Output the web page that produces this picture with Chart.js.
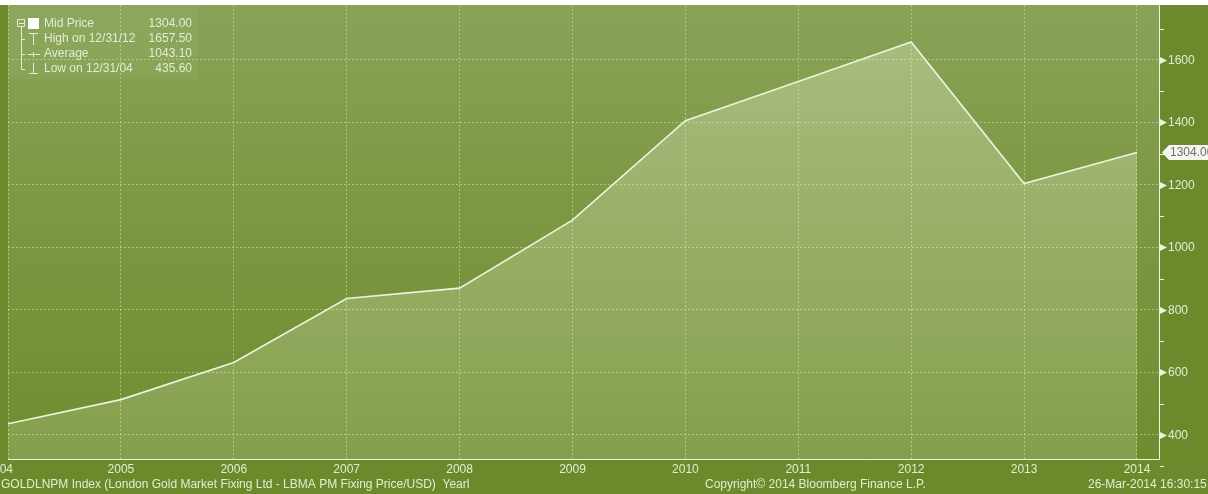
<!DOCTYPE html>
<html>
<head>
<meta charset="utf-8">
<script src="https://cdn.jsdelivr.net/npm/chart.js@4.4.1/dist/chart.umd.min.js"></script>
<style>
html,body{margin:0;padding:0;background:#fff;}
canvas{display:block;}
</style>
</head>
<body>
<canvas id="c" width="1208" height="494"></canvas>
<script>
const years = [2004, 2005, 2006, 2007, 2008, 2009, 2010, 2011, 2012, 2013, 2014];
const prices = [435.6, 513.0, 632.0, 836.5, 869.75, 1087.5, 1405.5, 1531.0, 1657.5, 1204.5, 1304.0];
const yTickValues = [400, 600, 800, 1000, 1200, 1400, 1600];
const yMinorValues = [300, 500, 700, 900, 1100, 1300, 1500, 1700];
const xTickLabels = ['2004', '2005', '2006', '2007', '2008', '2009', '2010', '2011', '2012', '2013', '2014'];
const legendLabels = ['Mid Price', 'High on 12/31/12', 'Average', 'Low on 12/31/04'];
const legendValues = ['1304.00', '1657.50', '1043.10', '435.60'];
const lastLabel = '1304.00';
const footerLeft = 'GOLDLNPM Index (London Gold Market Fixing Ltd - LBMA PM Fixing Price/USD)  Yearl';
const footerMid = 'Copyright\u00A9 2014 Bloomberg Finance L.P.';
const footerRight = '26-Mar-2014 16:30:15';

const FONT = '"Liberation Sans", Arial, sans-serif';
const TXT = '#e4edd2';

const bgPlugin = {
  id: 'bg',
  beforeDraw(chart) {
    const ctx = chart.ctx, a = chart.chartArea;
    ctx.save();
    ctx.fillStyle = '#6b8a2c';
    ctx.fillRect(0, 5, chart.width, chart.height - 5);
    const g = ctx.createLinearGradient(0, a.top, 0, a.bottom);
    g.addColorStop(0, '#88a357');
    g.addColorStop(0.5, '#7b9741');
    g.addColorStop(1, '#6e8d2f');
    ctx.fillStyle = g;
    ctx.fillRect(a.left, a.top, a.right - a.left, a.bottom - a.top);
    ctx.restore();
  },
  afterDraw(chart) {
    const ctx = chart.ctx, a = chart.chartArea;
    const xs = chart.scales.x, ys = chart.scales.y;
    ctx.save();
    // axis lines
    ctx.strokeStyle = '#eef3e2';
    ctx.lineWidth = 1;
    ctx.beginPath();
    ctx.moveTo(a.right + 0.5, a.top);
    ctx.lineTo(a.right + 0.5, a.bottom + 0.5);
    ctx.lineTo(a.left, a.bottom + 0.5);
    ctx.stroke();
    // major tick arrows + labels
    ctx.fillStyle = '#eef3e2';
    ctx.font = '12px ' + FONT;
    ctx.textBaseline = 'middle';
    ctx.textAlign = 'left';
    yTickValues.forEach(v => {
      const py = Math.round(ys.getPixelForValue(v)) + 0.5;
      ctx.fillStyle = '#eef3e2';
      ctx.beginPath();
      ctx.moveTo(a.right + 1, py - 3.5);
      ctx.lineTo(a.right + 8, py);
      ctx.lineTo(a.right + 1, py + 3.5);
      ctx.closePath();
      ctx.fill();
      ctx.fillStyle = TXT;
      ctx.fillText(String(v), a.right + 9, py);
    });
    // minor ticks
    ctx.beginPath();
    yMinorValues.forEach(v => {
      const py = Math.round(ys.getPixelForValue(v)) + 0.5;
      ctx.moveTo(a.right + 1, py);
      ctx.lineTo(a.right + 5, py);
    });
    ctx.stroke();
    // x tick labels
    ctx.fillStyle = TXT;
    ctx.font = '12px ' + FONT;
    years.forEach((yr, i) => {
      const px = xs.getPixelForValue(yr);
      const w = ctx.measureText(xTickLabels[i]).width;
      if (px - w / 2 < 0) {
        ctx.textAlign = 'right';
        ctx.fillText(xTickLabels[i], px + 5, a.bottom + 11);
      } else {
        ctx.textAlign = 'center';
        ctx.fillText(xTickLabels[i], px, a.bottom + 11);
      }
    });
    // footer
    ctx.textAlign = 'left';
    ctx.fillText(footerLeft, 1, a.bottom + 26);
    ctx.fillText(footerMid, 705, a.bottom + 26);
    ctx.fillText(footerRight, 1088, a.bottom + 26);
    // last value callout
    const ly = ys.getPixelForValue(prices[prices.length - 1]);
    ctx.fillStyle = '#f5f7ef';
    ctx.beginPath();
    ctx.moveTo(a.right + 3, ly);
    ctx.lineTo(a.right + 10, ly - 7.5);
    ctx.lineTo(chart.width, ly - 7.5);
    ctx.lineTo(chart.width, ly + 7.5);
    ctx.lineTo(a.right + 10, ly + 7.5);
    ctx.closePath();
    ctx.fill();
    ctx.fillStyle = '#6d6d6d';
    ctx.font = '12px ' + FONT;
    ctx.textAlign = 'left';
    ctx.fillText(lastLabel, a.right + 11, ly + 0.5);
    // legend box
    ctx.fillStyle = 'rgba(255,255,255,0.045)';
    ctx.fillRect(9, 5, 189, 74);
    const rows = [24, 39, 54, 69];
    ctx.fillStyle = TXT;
    ctx.font = '12px ' + FONT;
    rows.forEach((ry, i) => {
      ctx.textAlign = 'left';
      ctx.fillText(legendLabels[i], 44, ry);
      ctx.textAlign = 'right';
      ctx.fillText(legendValues[i], 192, ry);
    });
    // legend icons
    ctx.strokeStyle = TXT;
    ctx.lineWidth = 1;
    ctx.beginPath();
    ctx.rect(17.5, 19.5, 7, 7);
    ctx.moveTo(19, 23.5); ctx.lineTo(24, 23.5);
    ctx.moveTo(21.5, 27); ctx.lineTo(21.5, 69.5);
    ctx.moveTo(21.5, 39.5); ctx.lineTo(25, 39.5);
    ctx.moveTo(21.5, 54.5); ctx.lineTo(25, 54.5);
    ctx.moveTo(21.5, 69.5); ctx.lineTo(25, 69.5);
    ctx.moveTo(29, 33.5); ctx.lineTo(38, 33.5);
    ctx.moveTo(33.5, 33.5); ctx.lineTo(33.5, 45);
    ctx.moveTo(28, 54.5); ctx.lineTo(40, 54.5);
    ctx.moveTo(33.5, 52); ctx.lineTo(33.5, 57);
    ctx.moveTo(33.5, 63); ctx.lineTo(33.5, 73.5);
    ctx.moveTo(29, 73.5); ctx.lineTo(38, 73.5);
    ctx.stroke();
    ctx.fillStyle = '#ffffff';
    ctx.fillRect(28, 18, 11, 11);
    ctx.restore();
  }
};

const ctx = document.getElementById('c').getContext('2d');
const fillGrad = ctx.createLinearGradient(0, 5, 0, 459);
fillGrad.addColorStop(0, 'rgba(232,238,205,0.36)');
fillGrad.addColorStop(1, 'rgba(232,238,205,0.18)');

new Chart(ctx, {
  type: 'line',
  data: {
    datasets: [{
      data: years.map((yr, i) => ({ x: yr, y: prices[i] })),
      borderColor: '#eef4dc',
      borderWidth: 1.6,
      pointRadius: 0,
      tension: 0,
      fill: 'start',
      backgroundColor: fillGrad
    }]
  },
  options: {
    responsive: false,
    devicePixelRatio: 1,
    animation: false,
    layout: { padding: { top: 5, left: 8, right: 0, bottom: 0 } },
    plugins: { legend: { display: false }, tooltip: { enabled: false } },
    scales: {
      x: {
        type: 'linear',
        min: 2004,
        max: 2014.195,
        afterBuildTicks(s) { s.ticks = years.map(v => ({ value: v })); },
        afterFit(s) { s.height = 35; },
        ticks: { display: false },
        grid: { color: 'rgba(205,225,160,0.6)', lineWidth: 1, drawTicks: false },
        border: { display: false, dash: [2, 2] }
      },
      y: {
        position: 'right',
        min: 323,
        max: 1776,
        afterBuildTicks(s) { s.ticks = yTickValues.map(v => ({ value: v })); },
        afterFit(s) { s.width = 49; },
        ticks: { display: false },
        grid: { color: 'rgba(205,225,160,0.6)', lineWidth: 1, drawTicks: false },
        border: { display: false, dash: [2, 2] }
      }
    }
  },
  plugins: [bgPlugin]
});
</script>
</body>
</html>
